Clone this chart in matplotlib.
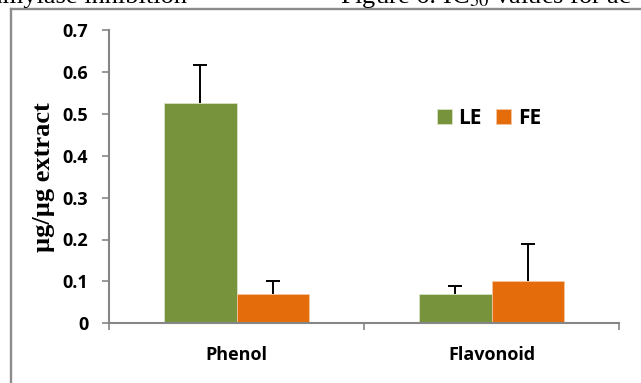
import matplotlib
matplotlib.use("Agg")
import matplotlib.pyplot as plt
from matplotlib.lines import Line2D
import numpy as np

categories = ["Phenol", "Flavonoid"]
le_values = [0.525, 0.07]
le_errors = [0.092, 0.02]
fe_values = [0.07, 0.10]
fe_errors = [0.03, 0.09]
y_ticks = [0, 0.1, 0.2, 0.3, 0.4, 0.5, 0.6, 0.7]

green = "#77933C"
orange = "#E46C0A"
axis_gray = "#868686"

plt.rcParams["mathtext.fontset"] = "stix"

W, H = 641, 383
fig = plt.figure(figsize=(W / 100, H / 100), dpi=100)
ax = fig.add_axes([109 / W, 1 - 323.3 / H, (619 - 109) / W, (323.3 - 30) / H])

x = np.arange(len(categories))
width = 0.286
ax.bar(x - width / 2, le_values, width, color=green, edgecolor="#dfe8cf",
       linewidth=0.5, label="LE")
ax.bar(x + width / 2, fe_values, width, color=orange, edgecolor="#f5c9a5",
       linewidth=0.5, label="FE")

# upper error bars only: hide the lower caps
for xs, vals, errs in [(x - width / 2, le_values, le_errors),
                       (x + width / 2, fe_values, fe_errors)]:
    eb = ax.errorbar(xs, vals, yerr=[np.zeros(len(errs)), errs], fmt="none",
                     ecolor="black", elinewidth=1.4, capsize=4.7, capthick=1.4)
    eb.lines[1][0].set_visible(False)

ax.set_xlim(-0.5, len(categories) - 0.5)
ax.set_ylim(0, 0.7)
ax.set_yticks(y_ticks)
ax.set_yticklabels([f"{t:g}" for t in y_ticks])

# category labels sit between the boundary ticks
ax.set_xticks(x)
ax.set_xticklabels(categories)
ax.set_xticks(np.arange(len(categories) + 1) - 0.5, minor=True)
ax.tick_params(axis="x", which="major", length=0, pad=16)
ax.tick_params(axis="x", which="minor", length=5, width=1.2, color=axis_gray)
ax.tick_params(axis="y", length=5, width=1.2, color=axis_gray, pad=10)

for lab in ax.get_xticklabels() + ax.get_yticklabels():
    lab.set_fontfamily("Open Sans")
    lab.set_fontweight("bold")
    lab.set_fontsize(13)

for side in ["top", "right"]:
    ax.spines[side].set_visible(False)
for side in ["left", "bottom"]:
    ax.spines[side].set_color(axis_gray)
    ax.spines[side].set_linewidth(1.5)

fig.text(44 / W, 1 - 177 / H, "µg/µg extract", rotation=90, ha="center",
         va="center", family="Liberation Serif", fontweight="bold", fontsize=19)

leg = ax.legend(loc="center", bbox_to_anchor=((489 - 109) / (619 - 109), (323.3 - 118) / (323.3 - 30)),
                ncol=2, frameon=False, handlelength=0.72, handleheight=0.72,
                handletextpad=0.33, columnspacing=0.7,
                prop={"family": "Open Sans", "weight": "bold", "size": 15})

# frame around the chart
border = dict(color="#8c8c8c", linewidth=1.7, transform=fig.transFigure)
fig.add_artist(Line2D([11 / W, 11 / W], [0, 1 - 9 / H], **border))
fig.add_artist(Line2D([11 / W, 1], [1 - 9 / H, 1 - 9 / H], **border))

# page text above the chart, running off the top of the page
fig.text(187 / W, 1 - 3 / H, "amylase inhibition", ha="right", va="baseline",
         family="Liberation Serif", fontsize=19)
fig.text(340 / W, 1 - 3 / H, "Figure 6: IC$_{50}$ values for ac", ha="left",
         va="baseline", family="Liberation Serif", fontsize=19)

fig.savefig("out.png", dpi=100)
